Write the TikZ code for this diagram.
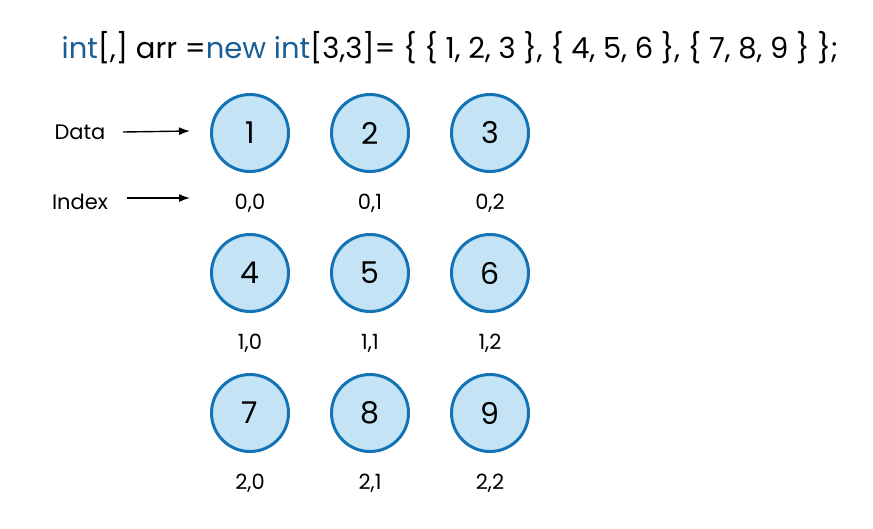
\documentclass[tikz,border=0pt]{standalone}
\usepackage{fontspec}
\usetikzlibrary{arrows.meta}
\setmainfont{Poppins}
\definecolor{kw}{RGB}{25,95,150}
\definecolor{cfill}{RGB}{196,228,246}
\definecolor{cdraw}{RGB}{20,115,180}
\begin{document}
\begin{tikzpicture}[x=1pt,y=-1pt,
  cell/.style={circle,draw=cdraw,fill=cfill,line width=3pt,minimum size=77pt,inner sep=0pt,font=\fontsize{30}{34}\selectfont},
  idx/.style={font=\fontsize{21}{24}\selectfont},
  lbl/.style={font=\fontsize{21}{24}\selectfont},
  arr/.style={-{Latex[length=11pt,width=8pt]},line width=1.4pt}]
\useasboundingbox (0,0) rectangle (873,528);
\node[font=\fontsize{29}{34}\selectfont] (title) at (450,48) {\textcolor{kw}{int}[,] arr =\textcolor{kw}{new int}[3,3]= \{ \{ 1, 2, 3 \}, \{ 4, 5, 6 \}, \{ 7, 8, 9 \} \};};
\foreach \r in {0,1,2}{
  \foreach \c in {0,1,2}{
    \pgfmathtruncatemacro{\v}{3*\r+\c+1}
    \node[cell] (n\r\c) at (250+120*\c,133+140*\r) {\v};
    \node[idx] (i\r\c) at (250+120*\c,203+140*\r) {\r,\c};
  }
}
\node[lbl] (data) at (80,132) {Data};
\node[lbl] (index) at (80,202) {Index};
\coordinate (da) at (190,131);
\coordinate (ia) at (190,198);
\coordinate (ds) at (123,132);
\coordinate (is) at (127,198);
\draw[arr] (ds) -- (da);
\draw[arr] (is) -- (ia);
\end{tikzpicture}
\end{document}
